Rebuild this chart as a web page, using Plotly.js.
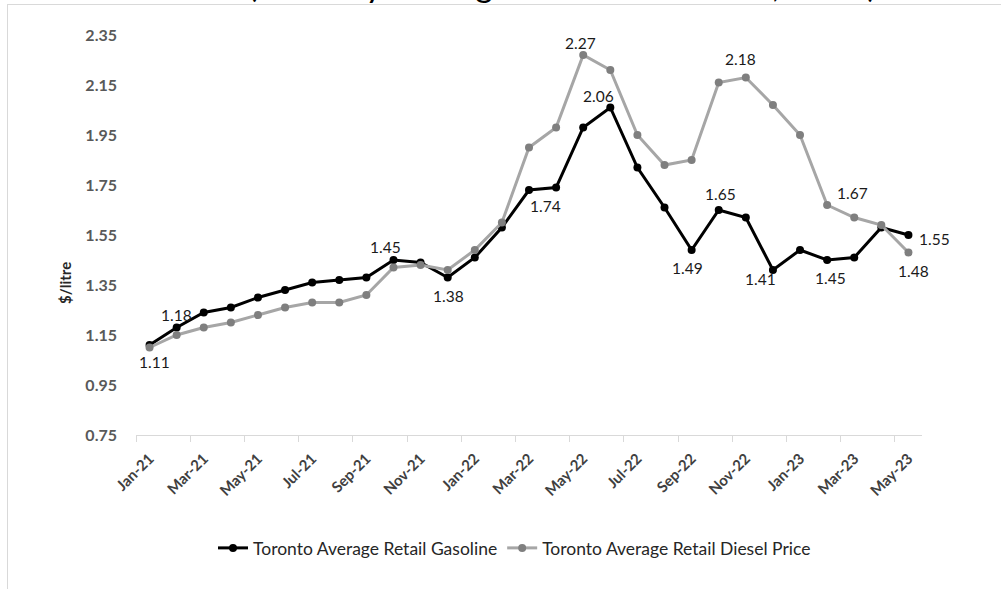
<!DOCTYPE html>
<html>
<head>
<meta charset="utf-8">
<script src="https://cdn.plot.ly/plotly-3.0.1.min.js"></script>
<style>
  html, body { margin: 0; padding: 0; background: #ffffff; overflow: hidden; }
  #frame { position: absolute; left: 7px; top: 4px; width: 1200px; height: 800px; border: 1px solid #d9d9d9; box-sizing: border-box; }
  #chart { position: absolute; left: 0; top: 0; width: 1001px; height: 589px; }
</style>
</head>
<body>
<div id="frame"></div>
<div id="chart"></div>
<script>
// ---- data ----
const months = ["Jan-21","Feb-21","Mar-21","Apr-21","May-21","Jun-21","Jul-21","Aug-21","Sep-21","Oct-21","Nov-21","Dec-21",
                "Jan-22","Feb-22","Mar-22","Apr-22","May-22","Jun-22","Jul-22","Aug-22","Sep-22","Oct-22","Nov-22","Dec-22",
                "Jan-23","Feb-23","Mar-23","Apr-23","May-23"];
const gasoline = [1.11,1.18,1.24,1.26,1.30,1.33,1.36,1.37,1.38,1.45,1.44,1.38,
                  1.46,1.58,1.73,1.74,1.98,2.06,1.82,1.66,1.49,1.65,1.62,1.41,
                  1.49,1.45,1.46,1.58,1.55];
const diesel   = [1.10,1.15,1.18,1.20,1.23,1.26,1.28,1.28,1.31,1.42,1.43,1.41,
                  1.49,1.60,1.90,1.98,2.27,2.21,1.95,1.83,1.85,2.16,2.18,2.07,
                  1.95,1.67,1.62,1.59,1.48];
const yTicks = [0.75,0.95,1.15,1.35,1.55,1.75,1.95,2.15,2.35];
const seriesNames = ["Toronto Average Retail Gasoline","Toronto Average Retail Diesel Price"];
const titleText = "(Monthly Average Retail Fuel Prices, 2023)";
const yTitle = "$/litre";
// indices of labelled points
const gasLabelIdx = [0,1,9,11,15,17,20,21,23,25,28];
const dieselLabelIdx = [16,22,25,28];

// ---- label placement (pixel offsets, style only) ----
const gasOffsets = {0:[5,17],1:[0,-13],9:[-8,-13],11:[1,18],15:[-11,18],17:[-12,-12],20:[-4,18],21:[2,-16],23:[-12,9],25:[3,18],28:[26,4]};
const dieselOffsets = {16:[-3,-12],22:[-5,-19],25:[25,-12],28:[5,18]};

const FONT = "Lato, 'Open Sans', sans-serif";

const traces = [
  {
    x: months, y: gasoline, name: seriesNames[0], type: "scatter", mode: "lines+markers",
    line: {color: "#000000", width: 3},
    marker: {color: "#000000", size: 8},
    hoverinfo: "skip"
  },
  {
    x: months, y: diesel, name: seriesNames[1], type: "scatter", mode: "lines+markers",
    line: {color: "#a6a6a6", width: 3},
    marker: {color: "#7f7f7f", size: 8},
    hoverinfo: "skip"
  }
];

const annotations = [];
gasLabelIdx.forEach(i => {
  const o = gasOffsets[i] || [0,-14];
  annotations.push({x: months[i], y: gasoline[i], xref: "x", yref: "y", text: gasoline[i].toFixed(2),
    showarrow: false, xshift: o[0], yshift: -o[1], font: {family: FONT, size: 15.5, color: "#1a1a1a"}});
});
dieselLabelIdx.forEach(i => {
  const o = dieselOffsets[i] || [0,-14];
  annotations.push({x: months[i], y: diesel[i], xref: "x", yref: "y", text: diesel[i].toFixed(2),
    showarrow: false, xshift: o[0], yshift: -o[1], font: {family: FONT, size: 15.5, color: "#1a1a1a"}});
});
// title (cut off at the top edge, as in the reference)
annotations.push({x: 0.542, xref: "paper", xanchor: "center", y: 1, yref: "paper", yanchor: "bottom", yshift: 29,
  text: titleText, showarrow: false, font: {family: FONT, size: 34, color: "#000000"}});
// y axis title (placed low, as in the reference)
annotations.push({x: 0, xref: "paper", xanchor: "center", xshift: -71, y: 0.38, yref: "paper", yanchor: "middle",
  text: yTitle, textangle: -90, showarrow: false, font: {family: FONT, size: 15, color: "#262626", weight: "bold"}});

const layout = {
  width: 1001, height: 589,
  margin: {l: 136, r: 79, t: 35, b: 154},
  paper_bgcolor: "rgba(0,0,0,0)", plot_bgcolor: "rgba(0,0,0,0)",
  showlegend: true,
  legend: {orientation: "h", xref: "container", x: 0.514, xanchor: "center", yref: "container", y: 0.0696, yanchor: "middle",
           font: {family: FONT, size: 17.5, color: "#262626"}, bgcolor: "rgba(0,0,0,0)", itemwidth: 30},
  xaxis: {
    type: "category", categoryorder: "array", categoryarray: months,
    range: [-0.5, months.length - 0.5],
    tickmode: "linear", tick0: 0, dtick: 2, tickson: "boundaries",
    ticks: "outside", ticklen: 6, tickcolor: "#d9d9d9", tickwidth: 1,
    showline: true, linecolor: "#d9d9d9", linewidth: 1,
    showgrid: false, zeroline: false, tickangle: -45,
    ticklabelstandoff: 8,
    tickfont: {family: FONT, size: 15, color: "#404040", weight: "bold"}
  },
  yaxis: {
    range: [0.75, 2.35], tickmode: "array", tickvals: yTicks, ticktext: yTicks.map(v => v.toFixed(2)),
    showgrid: false, zeroline: false, showline: false, ticks: "",
    ticklabelstandoff: 18,
    tickfont: {family: FONT, size: 16, color: "#595959", weight: "bold"}
  },
  annotations: annotations
};

Plotly.newPlot("chart", traces, layout, {displayModeBar: false, staticPlot: true});
</script>
</body>
</html>
